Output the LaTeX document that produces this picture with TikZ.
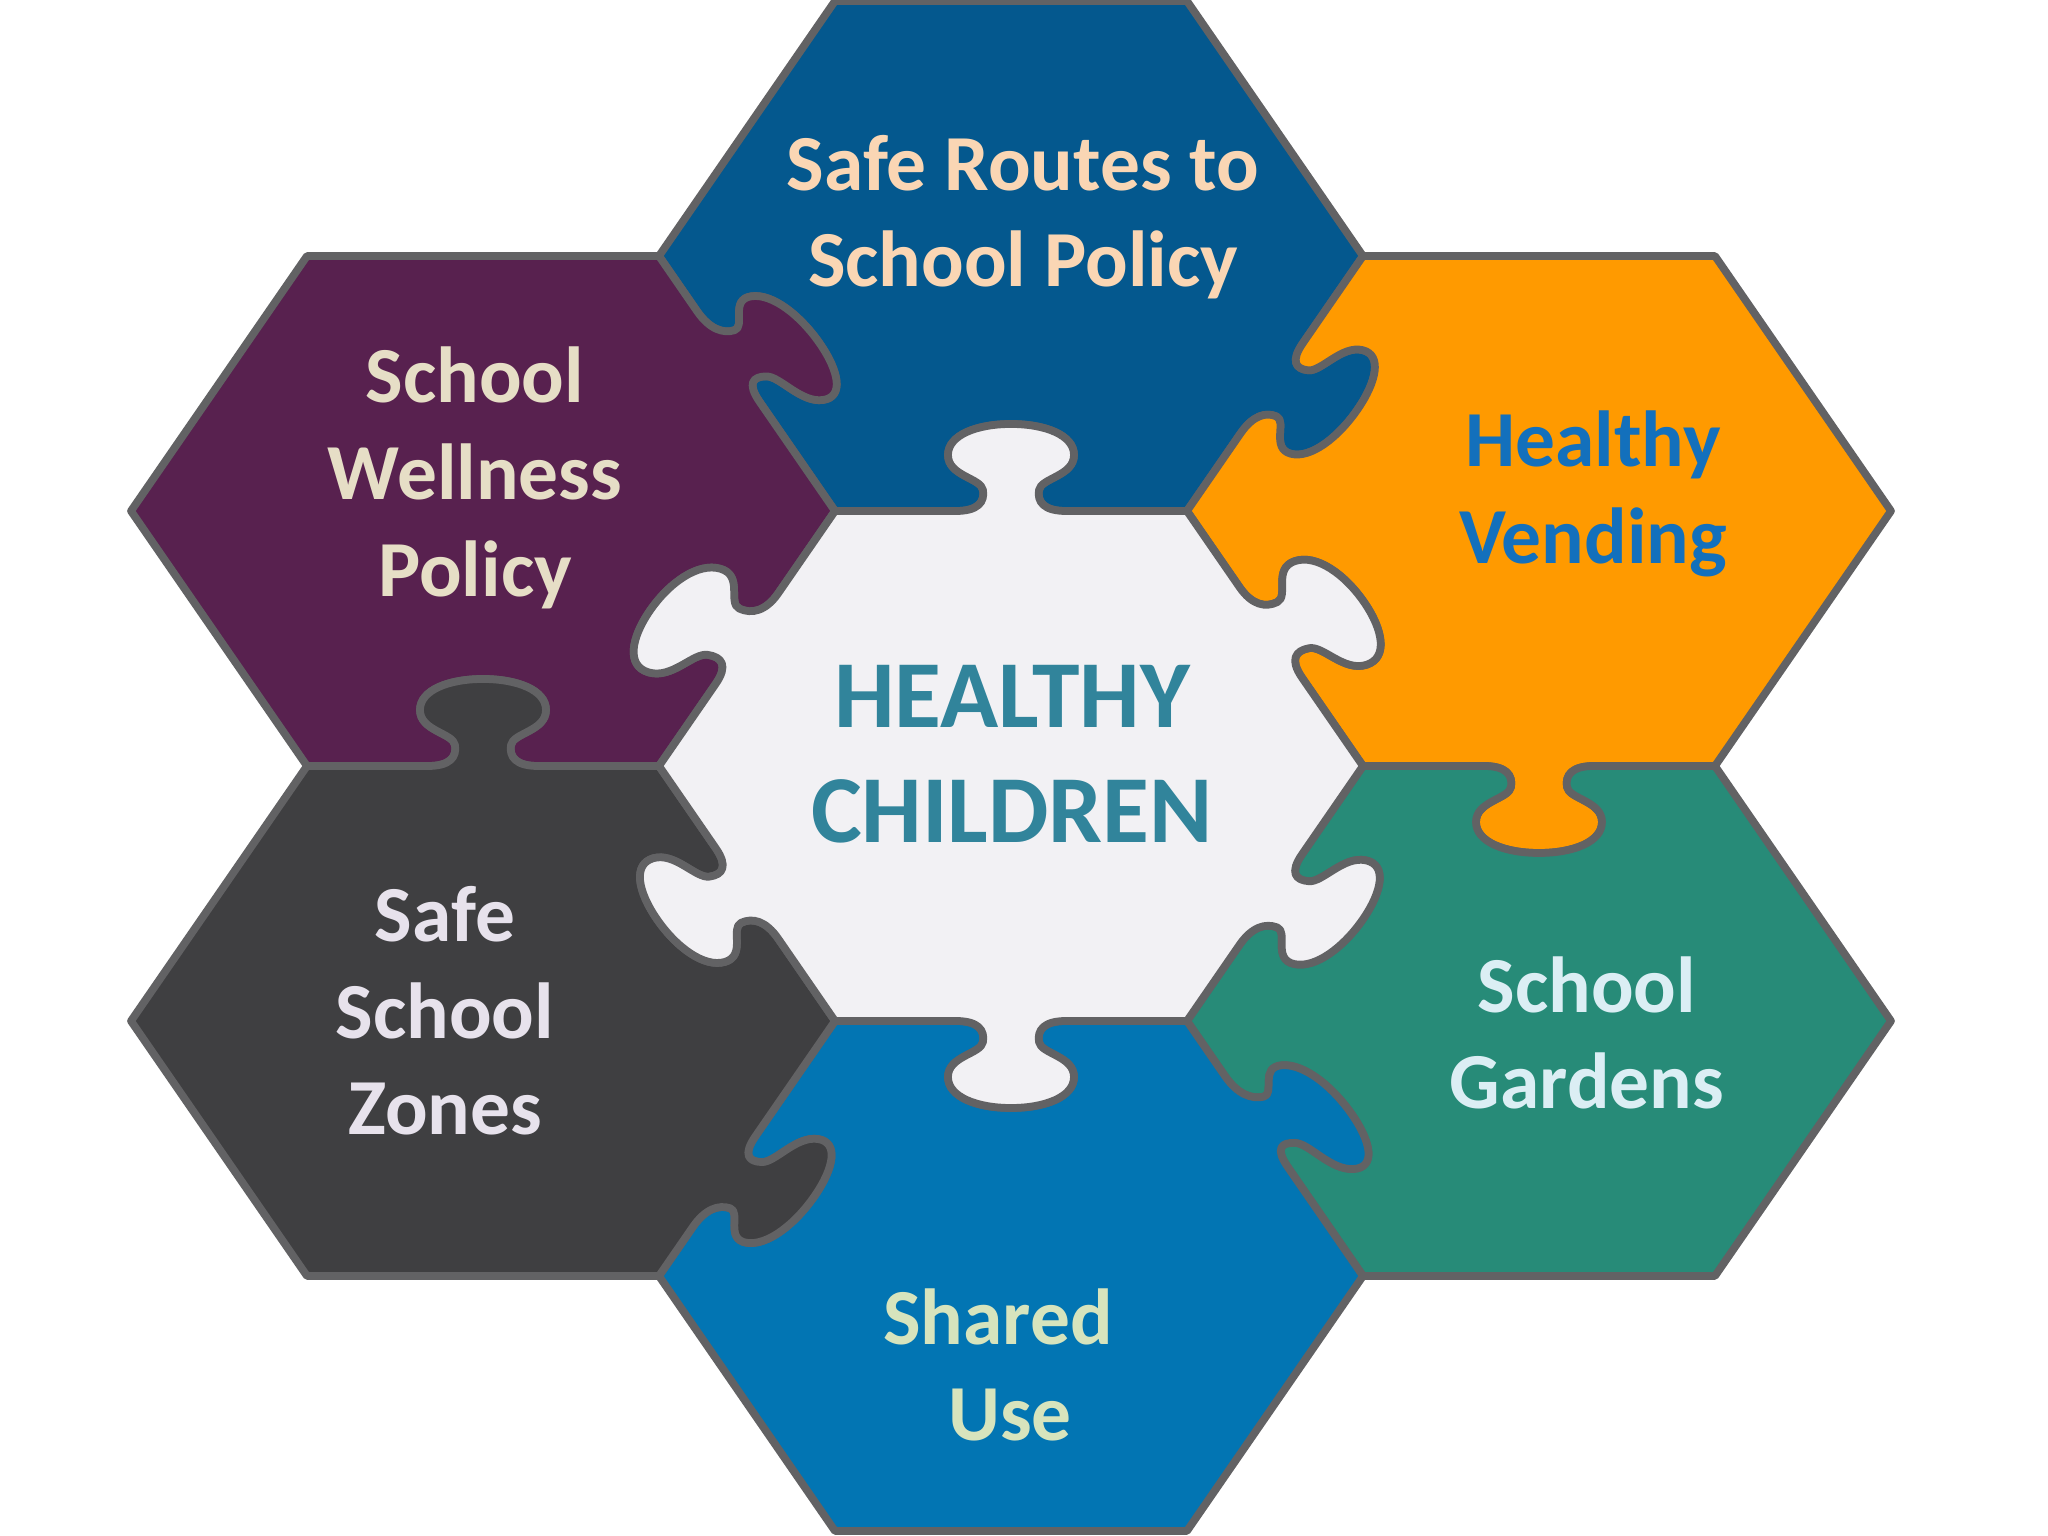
\documentclass[tikz,border=0pt]{standalone}
\usepackage{fontspec}
\setmainfont{Carlito}
\usetikzlibrary{calc}

\definecolor{edgegray}{HTML}{626264}
\definecolor{ctrfill}{HTML}{F2F1F4}
\definecolor{ctrtext}{HTML}{31849B}
\definecolor{srfill}{HTML}{04588E}
\definecolor{srtext}{HTML}{FAD6B4}
\definecolor{welfill}{HTML}{58214F}
\definecolor{weltext}{HTML}{E6DEC6}
\definecolor{venfill}{HTML}{FF9A00}
\definecolor{ventext}{HTML}{1370BC}
\definecolor{garfill}{HTML}{278B78}
\definecolor{gartext}{HTML}{DBEEF4}
\definecolor{sszfill}{HTML}{3F3F41}
\definecolor{ssztext}{HTML}{E7E2EC}
\definecolor{shufill}{HTML}{0275B3}
\definecolor{shutext}{HTML}{D7E4BD}

\begin{document}
\begin{tikzpicture}

    \tikzset{
      piece/.style={
        draw=edgegray,
        line width=2.2pt,
        line join=round,
      },
      knob/.style n args={3}{to path={
        let \p1=(\tikztostart), \p2=(\tikztotarget),
            \p4=($(\p1)!0.5!(\p2)+(0,#3)$),
            \p3=($(\p1)!(\p4)!(\p2)$),
            \n1={atan2(\y2-\y1,\x2-\x1)},
            \n2={cos(\n1)}, \n3={sin(\n1)},
            \n4={#2*cos(#1)/abs(sin(#1-\n1))}, \n5={#2*sin(#1)/abs(sin(#1-\n1))} in
        {[cm={\n2,\n3,\n4,\n5,(\p3)}]
          -- (-0.55,0)
          .. controls (-0.33,0) and (-0.26,0.09) .. (-0.28,0.21)
          .. controls (-0.30,0.33) and (-0.63,0.35) .. (-0.63,0.56)
          .. controls (-0.63,0.76) and (-0.34,0.87) .. (0,0.87)
          .. controls (0.34,0.87) and (0.63,0.76) .. (0.63,0.56)
          .. controls (0.63,0.35) and (0.30,0.33) .. (0.28,0.21)
          .. controls (0.26,0.09) and (0.33,0) .. (0.55,0)}
        -- (\tikztotarget)}},
      ctr-sr/.style={knob={90}{1}{0}},
      ctr-wel/.style={knob={164}{1.1}{0}},
      ctr-ssz/.style={knob={196}{1.02}{0}},
      ctr-shu/.style={knob={270}{1}{0}},
      ctr-gar/.style={knob={-12}{1.0}{-0.09}},
      ctr-ven/.style={knob={18}{1.08}{0.09}},
      sr-wel/.style={knob={8}{0.95}{0.40}},
      sr-ven/.style={knob={-14}{0.95}{-0.07}},
      ven-gar/.style={knob={270}{1}{0}},
      gar-shu/.style={knob={4}{0.95}{0.40}},
      shu-ssz/.style={knob={-9}{0.95}{-0.49}},
      ssz-wel/.style={knob={90}{1}{0}},
      piecetext/.style={
        font=\fontsize{22.6}{27.5}\selectfont\bfseries,
        align=center,
      },
    }
    \useasboundingbox (-10.11,-7.70) rectangle (10.37,7.66);

    \foreach \pc/\cx/\cy in {ctr/0/0, sr/0/2, wel/-1/1, ven/1/1, ssz/-1/-1, gar/1/-1, shu/0/-2}
      \foreach \i in {1,...,6}
        \coordinate (\pc-\i) at ({(1.5*\cx+cos(60*(\i-1)))*3.52}, {(\cy+sin(60*(\i-1))/sin(60))*2.55});

	\path[piece, fill=srfill] (sr-1) -- (sr-2) -- (sr-3) -- (sr-4) to[sr-wel] (sr-5) to[ctr-sr] (sr-6) to[sr-ven] (sr-1) -- cycle;
	\path[piece, fill=welfill] (wel-1) to[sr-wel] (wel-2) -- (wel-3) -- (wel-4) -- (wel-5) to[ssz-wel] (wel-6) to[ctr-wel] (wel-1) -- cycle;
	\path[piece, fill=venfill] (ven-1) -- (ven-2) -- (ven-3) to[sr-ven] (ven-4) to[ctr-ven] (ven-5) to[ven-gar] (ven-6) -- cycle;
	\path[piece, fill=garfill] (gar-1) -- (gar-2) to[ven-gar] (gar-3) to[ctr-gar] (gar-4) to[gar-shu] (gar-5) -- (gar-6) -- cycle;
	\path[piece, fill=shufill] (shu-1) to[gar-shu] (shu-2) to[ctr-shu] (shu-3) to[shu-ssz] (shu-4) -- (shu-5) -- (shu-6) -- cycle;
	\path[piece, fill=sszfill] (ssz-1) to[ctr-ssz] (ssz-2) to[ssz-wel] (ssz-3) -- (ssz-4) -- (ssz-5) -- (ssz-6) to[shu-ssz] (ssz-1) -- cycle;
	\path[piece, fill=ctrfill] (ctr-1) to[ctr-ven] (ctr-2) to[ctr-sr] (ctr-3) to[ctr-wel] (ctr-4) to[ctr-ssz] (ctr-5) to[ctr-shu] (ctr-6) to[ctr-gar] (ctr-1) -- cycle;

	\node[piecetext, text=srtext] (sr-txt) at (0.12,5.49) {Safe Routes to\\School Policy};
	\node[piecetext, text=weltext] (wel-txt) at (-5.36,2.88) {School\\Wellness\\Policy};
	\node[piecetext, text=ventext] (ven-txt) at (5.82,2.72) {Healthy\\Vending};
	\node[piecetext, text=ssztext] (ssz-txt) at (-5.66,-2.45) {Safe\\School\\Zones};
	\node[piecetext, text=gartext] (gar-txt) at (5.76,-2.67) {School\\Gardens};
	\node[piecetext, text=shutext] (shu-txt) at (-0.13,-5.99) {Shared\\\hspace*{0.24cm}Use};
	\node[font=\fontsize{27.3}{32.7}\selectfont\bfseries, align=center, text=ctrtext] (ctr-txt) at (0.01,0.12) {HEALTHY\\CHILDREN};

\end{tikzpicture}
\end{document}
